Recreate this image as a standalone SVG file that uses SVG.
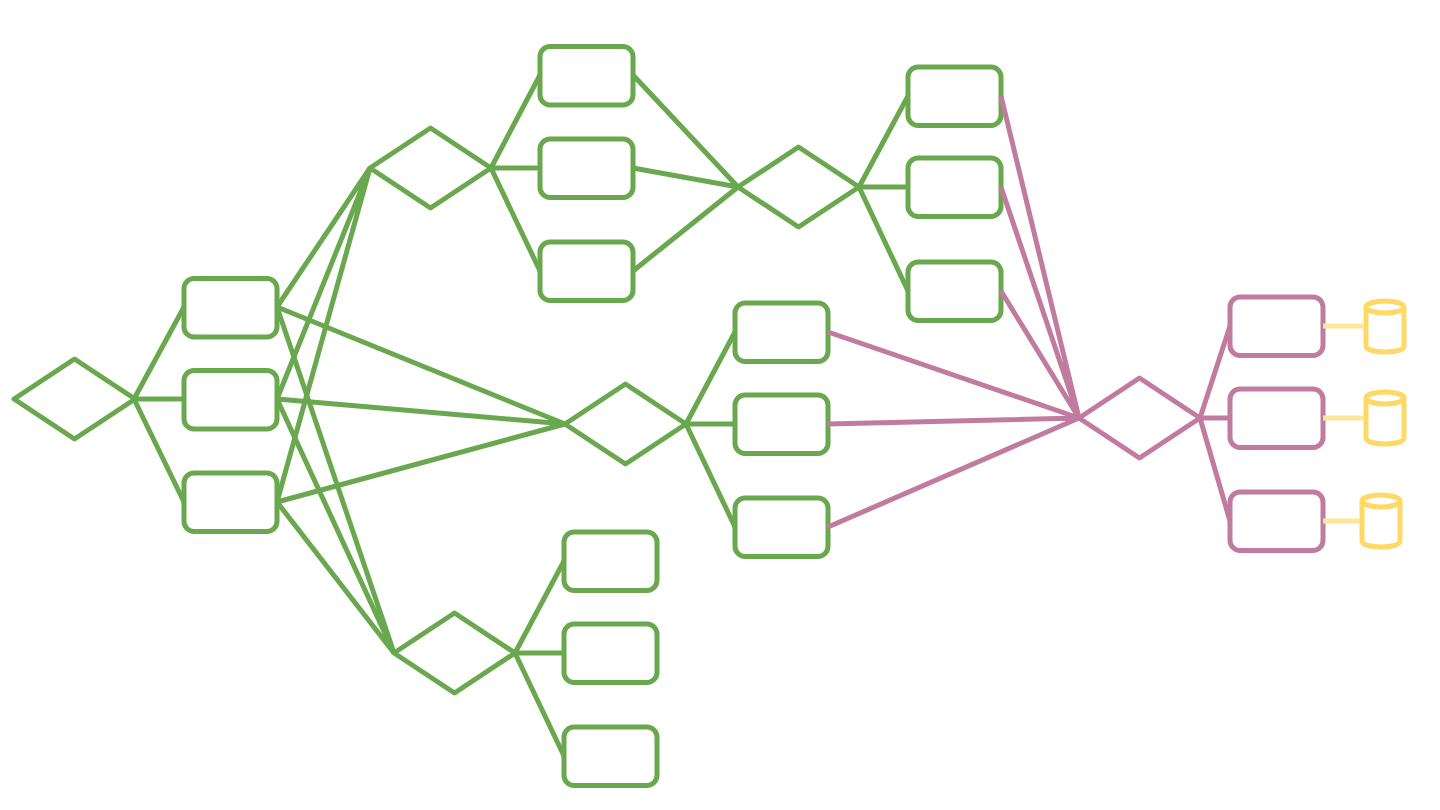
<svg xmlns="http://www.w3.org/2000/svg" width="1440" height="810" viewBox="0 0 1440 810">
<defs>
<style>
.g{stroke:#6aa84f;fill:none;stroke-width:5px;stroke-linejoin:round}
.p{stroke:#c27ba0;fill:none;stroke-width:5px;stroke-linejoin:round}
.y{stroke:#ffd966;fill:none;stroke-width:5px}
.yl{stroke:#ffe599;fill:none;stroke-width:5px}
</style>
<rect id="bx" x="0" y="0" width="93" height="58.5" rx="10" ry="10"/>
<polygon id="dm" points="0,0 60.5,-40 121,0 60.5,40"/>
</defs>
<rect width="1440" height="810" fill="#fff"/>
<g id="d1" class="g"><use href="#dm" x="14" y="399"/></g>
<g id="b1" class="g"><use href="#bx" x="184" y="278.500"/></g>
<g id="b2" class="g"><use href="#bx" x="184" y="370.500"/></g>
<g id="b3" class="g"><use href="#bx" x="184" y="473"/></g>
<g id="d2" class="g"><use href="#dm" x="370" y="168"/></g>
<g id="b4" class="g"><use href="#bx" x="540" y="46.500"/></g>
<g id="b5" class="g"><use href="#bx" x="540" y="139"/></g>
<g id="b6" class="g"><use href="#bx" x="540" y="242"/></g>
<g id="d3" class="g"><use href="#dm" x="738" y="187"/></g>
<g id="b7" class="g"><use href="#bx" x="908" y="67"/></g>
<g id="b8" class="g"><use href="#bx" x="908" y="158"/></g>
<g id="b9" class="g"><use href="#bx" x="908" y="262"/></g>
<g id="d4" class="g"><use href="#dm" x="565" y="424"/></g>
<g id="b10" class="g"><use href="#bx" x="735" y="303"/></g>
<g id="b11" class="g"><use href="#bx" x="735" y="395"/></g>
<g id="b12" class="g"><use href="#bx" x="735" y="498"/></g>
<g id="d5" class="g"><use href="#dm" x="394" y="653"/></g>
<g id="b13" class="g"><use href="#bx" x="564" y="532"/></g>
<g id="b14" class="g"><use href="#bx" x="564" y="624"/></g>
<g id="b15" class="g"><use href="#bx" x="564" y="727"/></g>
<g id="d6" class="p"><use href="#dm" x="1079" y="418"/></g>
<g id="b16" class="p"><use href="#bx" x="1230" y="297"/></g>
<g id="b17" class="p"><use href="#bx" x="1230" y="389"/></g>
<g id="b18" class="p"><use href="#bx" x="1230" y="492"/></g>
<g id="c1" class="y"><path d="M1366 307V346C1366 354 1404 354 1404 346V307"/><ellipse cx="1385" cy="307" rx="19" ry="6"/></g>
<g id="c2" class="y"><path d="M1366 398V438C1366 446 1404 446 1404 438V398"/><ellipse cx="1385" cy="398" rx="19" ry="6"/></g>
<g id="c3" class="y"><path d="M1362 501V541C1362 549 1400 549 1400 541V501"/><ellipse cx="1381" cy="501" rx="19" ry="6"/></g>
<g id="connectors">
<g class="g">
<path d="M134 399L184 307M134 399H184M134 399L184 502"/>
<path d="M277 307L370 168M277 399L370 168M277 502L370 168"/>
<path d="M277 307L565 424M277 399L565 424M277 502L565 424"/>
<path d="M277 307L394 653M277 399L394 653M277 502L394 653"/>
<path d="M491 168L540 75M491 168H540M491 168L540 271"/>
<path d="M633 75L738 187M633 168L738 187M633 271L738 187"/>
<path d="M859 187L908 96M859 187H908M859 187L908 291"/>
<path d="M686 424L735 332M686 424H735M686 424L735 527"/>
<path d="M515 653L564 561M515 653H564M515 653L564 756"/>
</g>
<g class="p">
<path d="M1001 96L1079 418M1001 187L1079 418M1001 291L1079 418"/>
<path d="M828 332L1079 418M828 424L1079 418M828 527L1079 418"/>
<path d="M1200 418L1230 326M1200 418H1230M1200 418L1230 521"/>
</g>
<g class="yl">
<path d="M1323 326H1364M1323 418H1364M1323 521H1360"/>
</g>
</g>
</svg>
